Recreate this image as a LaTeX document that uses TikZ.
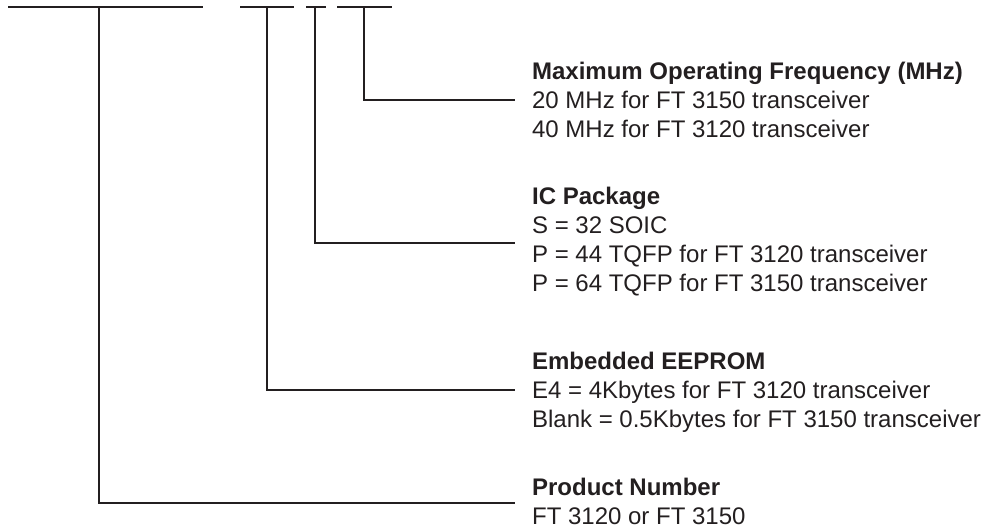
\documentclass[tikz,border=0pt]{standalone}
\usepackage{fontspec}
\setmainfont{Liberation Sans}
\usetikzlibrary{positioning}
\definecolor{ink}{HTML}{231F20}

\begin{document}
\begin{tikzpicture}[x=1pt, y=-1pt, line width=2.2pt, draw=ink,
  txt/.style={anchor=west, inner sep=0pt, text=ink, text height=17pt, text depth=0pt,
    font=\fontsize{24}{29}\selectfont},
  head/.style={txt, font=\fontsize{24}{29}\selectfont\bfseries}]
  \useasboundingbox (0,0) rectangle (984,531);

  % part number fields
  \draw (8,7) -- (203,7);
  \draw (240,7) -- (294,7);
  \draw (306,7) -- (326,7);
  \draw (337,7) -- (392,7);
  \coordinate (prodtap) at (99,7);
  \coordinate (eeptap) at (267,7);
  \coordinate (pkgtap) at (315,7);
  \coordinate (freqtap) at (364,7);

  % descriptions
  \node[head] (freqhead) at (531,71) {Maximum Operating Frequency (MHz)};
  \node[txt] (freqa) at (531,100) {20 MHz for FT 3150 transceiver};
  \node[txt] (freqb) at (531,129) {40 MHz for FT 3120 transceiver};

  \node[head] (pkghead) at (531,196) {IC Package};
  \node[txt] (pkga) at (531,225) {S = 32 SOIC};
  \node[txt] (pkgb) at (531,254) {P = 44 TQFP for FT 3120 transceiver};
  \node[txt] (pkgc) at (531,283) {P = 64 TQFP for FT 3150 transceiver};

  \node[head] (eephead) at (531,361) {Embedded EEPROM};
  \node[txt] (eepa) at (531,390) {E4 = 4Kbytes for FT 3120 transceiver};
  \node[txt] (eepb) at (531,419) {Blank = 0.5Kbytes for FT 3150 transceiver};

  \node[head] (prodhead) at (531,487) {Product Number};
  \node[txt] (proda) at (531,516) {FT 3120 or FT 3150};

  % leaders
  \draw (freqtap) |- ([xshift=-16pt]freqa.west);
  \draw (pkgtap) |- ([xshift=-16pt,yshift=11pt]pkgb.west);
  \draw (eeptap) |- ([xshift=-16pt]eepa.west);
  \draw (prodtap) |- ([xshift=-16pt,yshift=-16pt]prodhead.west);
\end{tikzpicture}
\end{document}
